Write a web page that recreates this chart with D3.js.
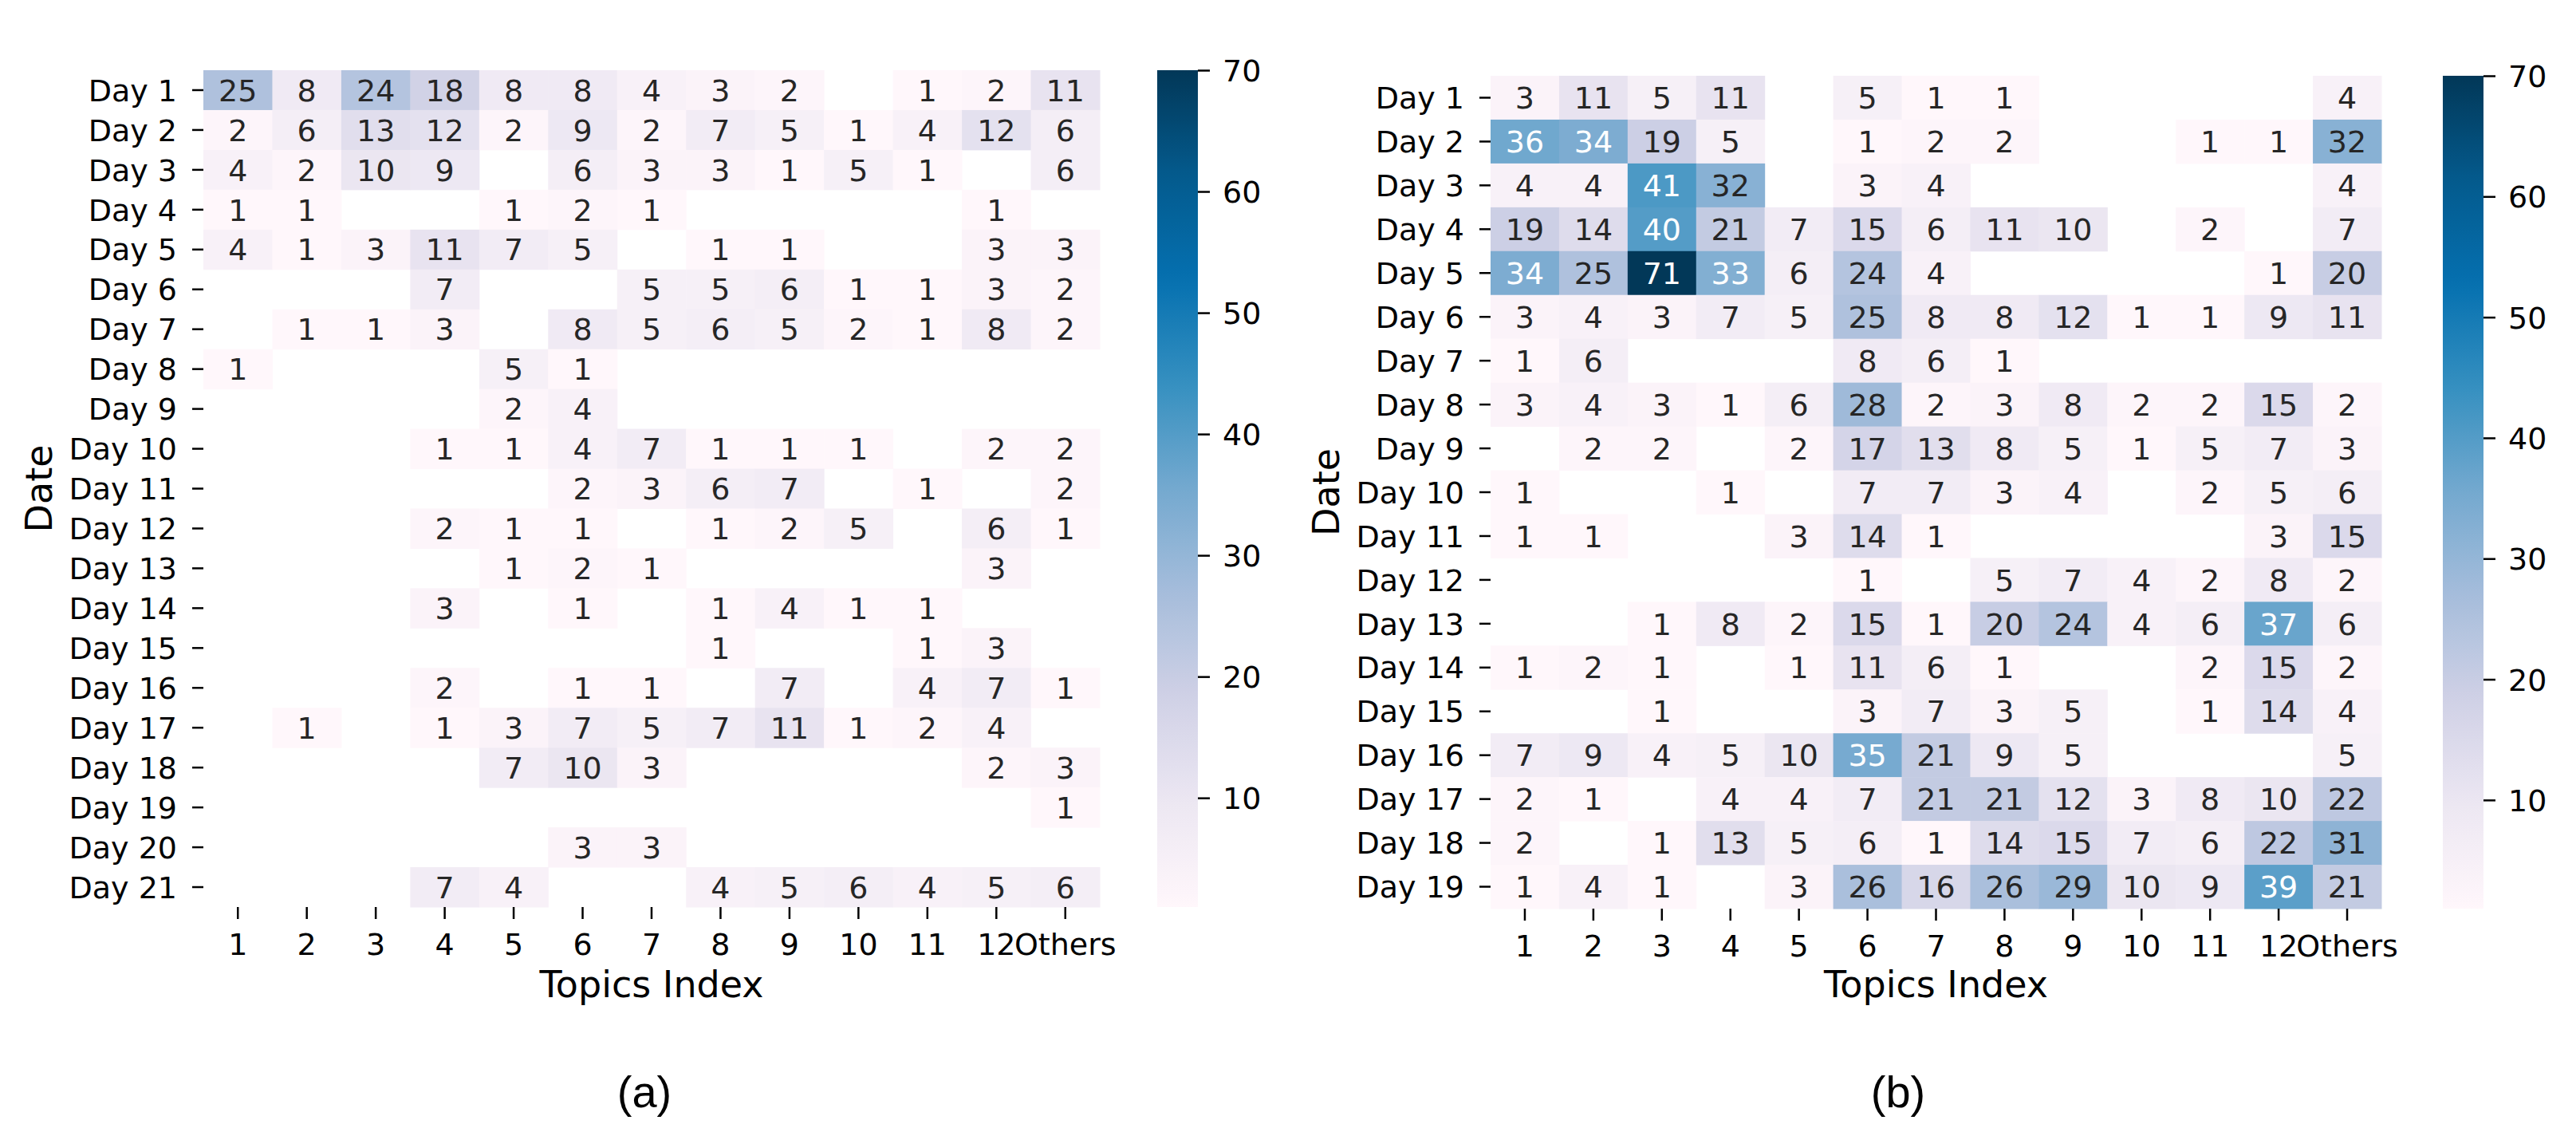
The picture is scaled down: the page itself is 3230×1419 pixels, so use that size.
<!DOCTYPE html>
<html>
<head>
<meta charset="utf-8">
<script src="https://cdn.jsdelivr.net/npm/d3@7"></script>
<style>
  body { margin: 0; background: #fff; }
  svg { display: block; }
</style>
</head>
<body>
<div id="chart"></div>
<script>
// Data
var topics = ["1", "2", "3", "4", "5", "6", "7", "8", "9", "10", "11", "12", "Others"];
var daysA = d3.range(1, 22).map(function(d) { return "Day " + d; });
var daysB = d3.range(1, 20).map(function(d) { return "Day " + d; });

// null = no messages (blank cell)
var countsA = [
  [25, 8, 24, 18, 8, 8, 4, 3, 2, null, 1, 2, 11],
  [2, 6, 13, 12, 2, 9, 2, 7, 5, 1, 4, 12, 6],
  [4, 2, 10, 9, null, 6, 3, 3, 1, 5, 1, null, 6],
  [1, 1, null, null, 1, 2, 1, null, null, null, null, 1, null],
  [4, 1, 3, 11, 7, 5, null, 1, 1, null, null, 3, 3],
  [null, null, null, 7, null, null, 5, 5, 6, 1, 1, 3, 2],
  [null, 1, 1, 3, null, 8, 5, 6, 5, 2, 1, 8, 2],
  [1, null, null, null, 5, 1, null, null, null, null, null, null, null],
  [null, null, null, null, 2, 4, null, null, null, null, null, null, null],
  [null, null, null, 1, 1, 4, 7, 1, 1, 1, null, 2, 2],
  [null, null, null, null, null, 2, 3, 6, 7, null, 1, null, 2],
  [null, null, null, 2, 1, 1, null, 1, 2, 5, null, 6, 1],
  [null, null, null, null, 1, 2, 1, null, null, null, null, 3, null],
  [null, null, null, 3, null, 1, null, 1, 4, 1, 1, null, null],
  [null, null, null, null, null, null, null, 1, null, null, 1, 3, null],
  [null, null, null, 2, null, 1, 1, null, 7, null, 4, 7, 1],
  [null, 1, null, 1, 3, 7, 5, 7, 11, 1, 2, 4, null],
  [null, null, null, null, 7, 10, 3, null, null, null, null, 2, 3],
  [null, null, null, null, null, null, null, null, null, null, null, null, 1],
  [null, null, null, null, null, 3, 3, null, null, null, null, null, null],
  [null, null, null, 7, 4, null, null, 4, 5, 6, 4, 5, 6]
];

var countsB = [
  [3, 11, 5, 11, null, 5, 1, 1, null, null, null, null, 4],
  [36, 34, 19, 5, null, 1, 2, 2, null, null, 1, 1, 32],
  [4, 4, 41, 32, null, 3, 4, null, null, null, null, null, 4],
  [19, 14, 40, 21, 7, 15, 6, 11, 10, null, 2, null, 7],
  [34, 25, 71, 33, 6, 24, 4, null, null, null, null, 1, 20],
  [3, 4, 3, 7, 5, 25, 8, 8, 12, 1, 1, 9, 11],
  [1, 6, null, null, null, 8, 6, 1, null, null, null, null, null],
  [3, 4, 3, 1, 6, 28, 2, 3, 8, 2, 2, 15, 2],
  [null, 2, 2, null, 2, 17, 13, 8, 5, 1, 5, 7, 3],
  [1, null, null, 1, null, 7, 7, 3, 4, null, 2, 5, 6],
  [1, 1, null, null, 3, 14, 1, null, null, null, null, 3, 15],
  [null, null, null, null, null, 1, null, 5, 7, 4, 2, 8, 2],
  [null, null, 1, 8, 2, 15, 1, 20, 24, 4, 6, 37, 6],
  [1, 2, 1, null, 1, 11, 6, 1, null, null, 2, 15, 2],
  [null, null, 1, null, null, 3, 7, 3, 5, null, 1, 14, 4],
  [7, 9, 4, 5, 10, 35, 21, 9, 5, null, null, null, 5],
  [2, 1, null, 4, 4, 7, 21, 21, 12, 3, 8, 10, 22],
  [2, null, 1, 13, 5, 6, 1, 14, 15, 7, 6, 22, 31],
  [1, 4, 1, null, 3, 26, 16, 26, 29, 10, 9, 39, 21]
];

var colorTicks = [10, 20, 30, 40, 50, 60, 70];
var vmin = 1, vmax = 70;

// PuBu, linear between the 9 ColorBrewer anchors (like matplotlib)
var pubu = ["#fff7fb", "#ece7f2", "#d0d1e6", "#a6bddb", "#74a9cf", "#3690c0", "#0570b0", "#045a8d", "#023858"];
var color = d3.scaleLinear()
  .domain(pubu.map(function(c, i) { return vmin + i * (vmax - vmin) / 8; }))
  .range(pubu)
  .clamp(true);

// seaborn picks annotation colour from luminance
function luminance(c) {
  var rgb = d3.rgb(c);
  var ch = [rgb.r, rgb.g, rgb.b].map(function(v) {
    v = v / 255;
    return v <= 0.03928 ? v / 12.92 : Math.pow((v + 0.055) / 1.055, 2.4);
  });
  return 0.2126 * ch[0] + 0.7152 * ch[1] + 0.0722 * ch[2];
}

var svgWidth = 3230;
var svgHeight = 1419;
var FONT = "DejaVu Sans";

var svg = d3.select("#chart")
  .append("svg")
  .attr("width", svgWidth)
  .attr("height", svgHeight);

var panels = [
  { days: daysA, counts: countsA, x0: 255, x1: 1379, y0: 88, y1: 1137, cbX: 1451, tag: "(a)", tagX: 808, id: "a" },
  { days: daysB, counts: countsB, x0: 1869, x1: 2986, y0: 95, y1: 1139, cbX: 3063, tag: "(b)", tagX: 2380, id: "b" }
];

panels.forEach(function(p) {
  var xScale = d3.scaleBand().domain(topics).range([p.x0, p.x1]);
  var yScale = d3.scaleBand().domain(p.days).range([p.y0, p.y1]);

  var cells = [];
  p.counts.forEach(function(row, i) {
    row.forEach(function(v, j) {
      if (v != null) cells.push({ day: p.days[i], topic: topics[j], value: v });
    });
  });

  var g = svg.append("g");

  // cells
  g.selectAll("rect.cell")
    .data(cells)
    .enter()
    .append("rect")
    .attr("class", "cell")
    .attr("x", function(d) { return xScale(d.topic); })
    .attr("y", function(d) { return yScale(d.day); })
    .attr("width", xScale.bandwidth() + 0.5)
    .attr("height", yScale.bandwidth() + 0.5)
    .attr("fill", function(d) { return color(d.value); });

  // annotations
  g.selectAll("text.annot")
    .data(cells)
    .enter()
    .append("text")
    .attr("class", "annot")
    .attr("x", function(d) { return xScale(d.topic) + xScale.bandwidth() / 2; })
    .attr("y", function(d) { return yScale(d.day) + yScale.bandwidth() / 2; })
    .attr("dy", "0.36em")
    .attr("text-anchor", "middle")
    .attr("font-family", FONT)
    .attr("font-size", 38)
    .attr("fill", function(d) { return luminance(color(d.value)) > 0.408 ? "#262626" : "#ffffff"; })
    .text(function(d) { return d.value; });

  // axes
  var yAxis = g.append("g")
    .attr("transform", "translate(" + p.x0 + ",0)")
    .call(d3.axisLeft(yScale).tickSize(14).tickPadding(19));
  var xAxis = g.append("g")
    .attr("transform", "translate(0," + p.y1 + ")")
    .call(d3.axisBottom(xScale).tickSize(15).tickPadding(18));

  [xAxis, yAxis].forEach(function(ax) {
    ax.select(".domain").remove();
    ax.attr("font-family", FONT).attr("font-size", 38);
    ax.selectAll(".tick line").attr("stroke", "#000").attr("stroke-width", 2.5);
    ax.selectAll(".tick text").attr("fill", "#000");
  });
  yAxis.selectAll(".tick text").attr("dy", "0.36em");

  // axis titles
  g.append("text")
    .attr("x", (p.x0 + p.x1) / 2)
    .attr("y", 1250)
    .attr("text-anchor", "middle")
    .attr("font-family", FONT)
    .attr("font-size", 46)
    .text("Topics Index");

  g.append("text")
    .attr("transform", "translate(" + (p.x0 - 190) + "," + (p.y0 + p.y1) / 2 + ") rotate(-90)")
    .attr("text-anchor", "middle")
    .attr("font-family", FONT)
    .attr("font-size", 46)
    .text("Date");

  // colorbar
  var cScale = d3.scaleLinear().domain([vmin, vmax]).range([p.y1, p.y0]);
  var grad = svg.append("defs").append("linearGradient")
    .attr("id", "grad-" + p.id)
    .attr("x1", 0).attr("y1", 1).attr("x2", 0).attr("y2", 0);
  grad.selectAll("stop")
    .data(d3.range(0, 1.0001, 0.02))
    .enter()
    .append("stop")
    .attr("offset", function(t) { return t; })
    .attr("stop-color", function(t) { return color(vmin + t * (vmax - vmin)); });

  g.append("rect")
    .attr("x", p.cbX)
    .attr("y", p.y0)
    .attr("width", 51)
    .attr("height", p.y1 - p.y0)
    .attr("fill", "url(#grad-" + p.id + ")");

  var cAxis = g.append("g")
    .attr("transform", "translate(" + (p.cbX + 51) + ",0)")
    .call(d3.axisRight(cScale).tickValues(colorTicks).tickSize(15).tickPadding(16));
  cAxis.select(".domain").remove();
  cAxis.attr("font-family", FONT).attr("font-size", 38);
  cAxis.selectAll(".tick line").attr("stroke", "#000").attr("stroke-width", 2.5);
  cAxis.selectAll(".tick text").attr("fill", "#000").attr("dy", "0.36em");

  // panel tag
  g.append("text")
    .attr("x", p.tagX)
    .attr("y", 1388)
    .attr("text-anchor", "middle")
    .attr("font-family", "Liberation Sans")
    .attr("font-size", 56)
    .text(p.tag);
});
</script>
</body>
</html>
